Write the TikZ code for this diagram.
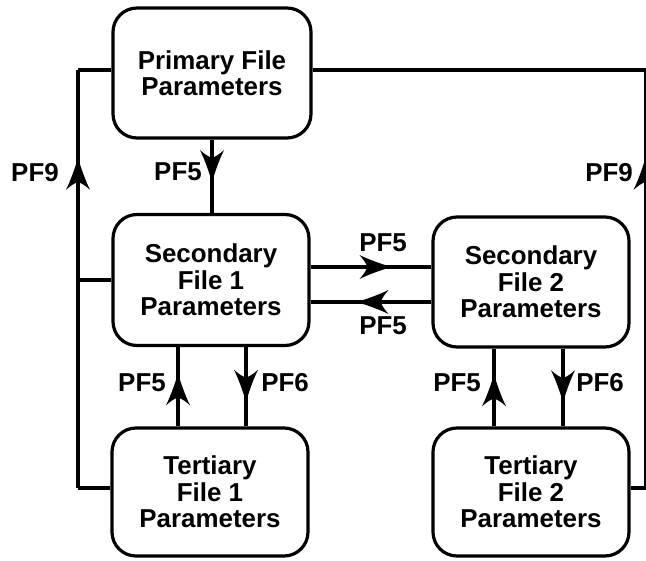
\documentclass[tikz,border=0pt]{standalone}
\usepackage{fontspec}
\setmainfont{Liberation Sans}
\usetikzlibrary{decorations.markings}
\begin{document}
\begin{tikzpicture}[x=1bp,y=-1bp,
  every node/.style={font=\bfseries\fontsize{26}{26.5}\selectfont},
  fbox/.style={draw, line width=3.2bp, rounded corners=24bp, align=center,
    minimum width=196bp, minimum height=129bp, inner sep=0pt},
  link/.style={line width=3.2bp},
  lbl/.style={inner sep=0pt},
  flow/.style={link, decoration={markings, mark=at position #1 with {%
      \fill (0,0) .. controls (-12,3.5) and (-24,8) .. (-32,12)
        .. controls (-27,6) .. (-24,0) .. controls (-27,-6) .. (-32,-12)
        .. controls (-24,-8) and (-12,-3.5) .. (0,0) -- cycle;}},
    postaction={decorate}}]
\useasboundingbox (0,0) rectangle (646,561);

% parameter boxes
\node[fbox, minimum width=198bp, minimum height=130bp] (P) at (212,73) {Primary File\\Parameters};
\node[fbox, minimum height=131bp] (S1) at (211,280) {Secondary\\File 1\\Parameters};
\node[fbox, minimum height=130bp] (S2) at (531,282) {Secondary\\File 2\\Parameters};
\node[fbox, minimum height=128bp] (T1) at (210,492) {Tertiary\\File 1\\Parameters};
\node[fbox, minimum height=128bp] (T2) at (531,492) {Tertiary\\File 2\\Parameters};

% corners of the two feedback loops
\coordinate (lt) at (78,70);
\coordinate (lb) at (78,488);
\coordinate (rt) at (645.5,70);
\coordinate (rb) at (645.5,488);

% primary -> secondary 1
\draw[flow=0.58] (P.south) -- (P.south |- S1.north);
\node[lbl] (l1) at (178,172) {PF5};

% left loop (PF9)
\draw[link] (P.west |- lt) -- (lt);
\draw[link] (T1.west |- lb) -- (lb);
\draw[flow=0.79] (lb) -- (lt);
\draw[link] (S1.west) -- (S1.west -| lt);
\node[lbl] (l2) at (35,173) {PF9};

% right loop (PF9)
\draw[link] (P.east |- rt) -- (rt);
\draw[link] (T2.east |- rb) -- (rb);
\draw[flow=0.79] (rb) -- (rt);
\node[lbl] (l3) at (609,173) {PF9};

% secondary 1 <-> secondary 2
\draw[flow=0.67] ([yshift=13bp]S1.east) -- ([yshift=13bp]S1.east -| S2.west);
\draw[flow=0.62] ([yshift=-22bp]S1.east -| S2.west) -- ([yshift=-22bp]S1.east);
\node[lbl] (l4) at (383,243) {PF5};
\node[lbl] (l5) at (383,326) {PF5};

% secondary 1 <-> tertiary 1
\draw[flow=0.67] ([xshift=-33bp]S1.south |- T1.north) -- ([xshift=-33bp]S1.south);
\draw[flow=0.69] ([xshift=35bp]S1.south) -- ([xshift=35bp]S1.south |- T1.north);
\node[lbl] (l6) at (142,383) {PF5};
\node[lbl] (l7) at (285,383) {PF6};

% secondary 2 <-> tertiary 2
\draw[flow=0.67] ([xshift=-37bp]S2.south |- T2.north) -- ([xshift=-37bp]S2.south);
\draw[flow=0.69] ([xshift=32bp]S2.south) -- ([xshift=32bp]S2.south |- T2.north);
\node[lbl] (l8) at (457,383) {PF5};
\node[lbl] (l9) at (600,383) {PF6};
\end{tikzpicture}
\end{document}
